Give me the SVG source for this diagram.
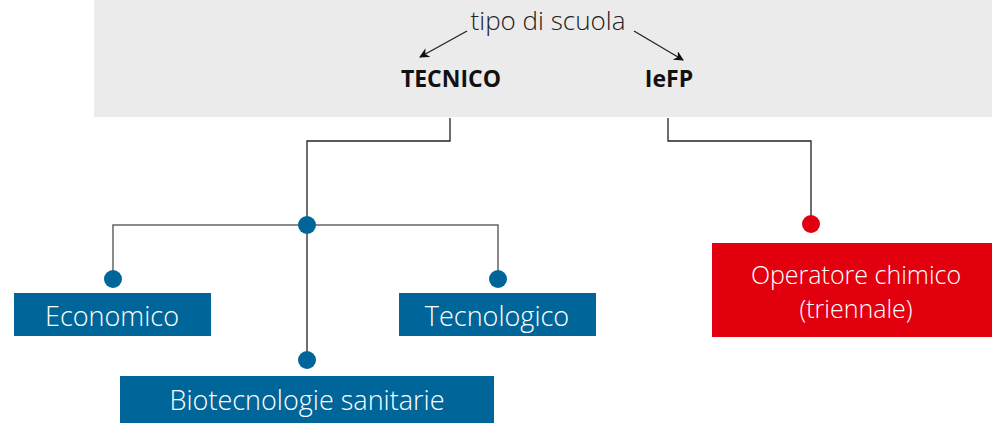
<svg xmlns="http://www.w3.org/2000/svg" width="992" height="423" viewBox="0 0 992 423">
<defs>
<style>
.lbl{font-family:"Open Sans","Liberation Sans",sans-serif;font-weight:300;font-size:27px;fill:#ffffff;text-anchor:middle}
.hd{font-family:"Open Sans","Liberation Sans",sans-serif;font-weight:700;font-size:23px;fill:#111111;text-anchor:middle}
.ln{fill:none;stroke:#222;stroke-width:1.3}
.ln2{fill:none;stroke:#666;stroke-width:1.5}
.blue{fill:#006699}
.red{fill:#e2000f}
</style>
<marker id="ah" viewBox="0 0 10 10" refX="9" refY="5" markerWidth="10" markerHeight="10" markerUnits="userSpaceOnUse" orient="auto">
<path d="M0,0 L10,5 L0,10 L3,5 Z" fill="#111"/>
</marker>
</defs>
<rect x="94" y="0" width="898" height="117" fill="#ebebeb"/>
<g id="title">
<text x="548" y="30" style="font-family:'Open Sans','Liberation Sans',sans-serif;font-weight:300;font-size:26px;fill:#222;text-anchor:middle">tipo di scuola</text>
</g>
<g id="tecnico"><text class="hd" x="451" y="87">TECNICO</text></g>
<g id="iefp"><text class="hd" x="669" y="87">IeFP</text></g>
<g id="connectors">
<line class="ln" x1="467" y1="31" x2="420" y2="57" marker-end="url(#ah)"/>
<line class="ln" x1="634" y1="31" x2="683" y2="60" marker-end="url(#ah)"/>
<polyline class="ln" points="450,118 450,141 307,141 307,360"/>
<polyline class="ln2" points="113,279 113,225 498,225 498,279"/>
<polyline class="ln" points="668,118 668,141 811,141 811,224"/>
<circle class="blue" cx="307" cy="225" r="9"/>
<circle class="blue" cx="113" cy="279" r="9"/>
<circle class="blue" cx="498" cy="279" r="9"/>
<circle class="blue" cx="307" cy="360" r="9"/>
<circle class="red" cx="811" cy="224" r="9"/>
</g>
<g id="economico"><rect class="blue" x="14" y="293" width="197" height="43"/><text class="lbl" x="112" y="326">Economico</text></g>
<g id="tecnologico"><rect class="blue" x="399" y="293" width="197" height="43"/><text class="lbl" x="497" y="326">Tecnologico</text></g>
<g id="biotecnologie"><rect class="blue" x="120" y="376" width="374" height="47"/><text class="lbl" x="307" y="410">Biotecnologie sanitarie</text></g>
<g id="operatore"><rect class="red" x="712" y="243" width="280" height="94"/><text class="lbl" x="856" y="284" style="font-size:25px">Operatore chimico</text><text class="lbl" x="856" y="318" style="font-size:25px">(triennale)</text></g>
</svg>
